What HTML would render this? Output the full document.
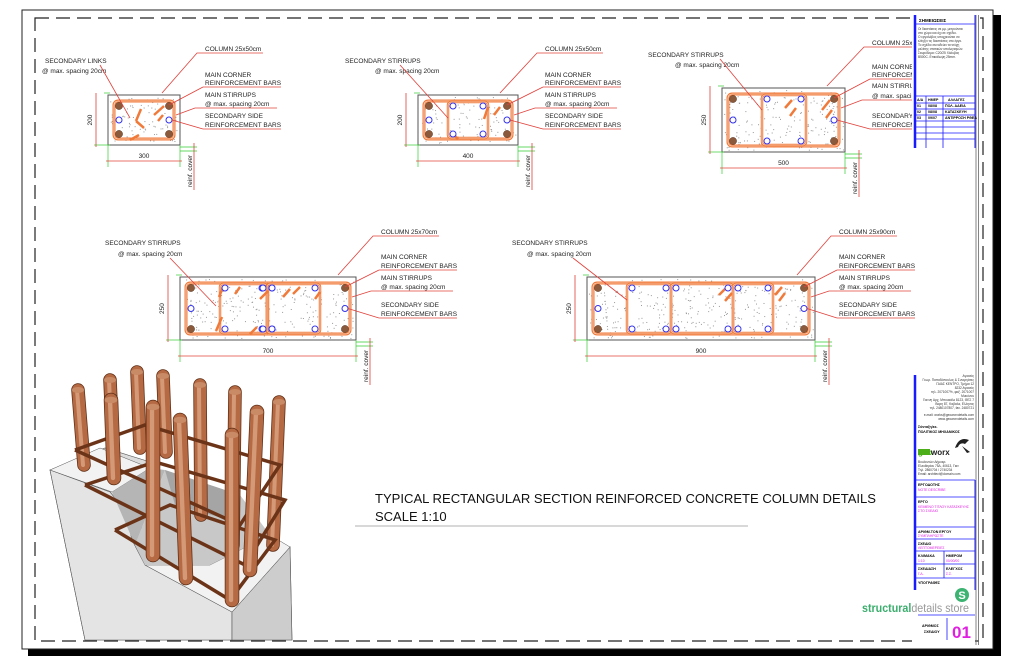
<!DOCTYPE html>
<html><head><meta charset="utf-8">
<style>
html,body{margin:0;padding:0;background:#fff;}
svg{display:block;font-family:"Liberation Sans",Arial,sans-serif;}
</style></head>
<body>
<svg id="s" width="1024" height="662" viewBox="0 0 1024 662" xmlns="http://www.w3.org/2000/svg">
<rect x="0" y="0" width="1024" height="662" fill="#fff"/>
<rect x="993" y="15" width="8" height="641" fill="#000"/>
<rect x="28" y="649" width="973" height="7" fill="#000"/>
<rect x="22" y="10" width="971" height="639" fill="none" stroke="#222" stroke-width="1"/>
<rect x="35" y="18" width="948" height="623" fill="none" stroke="#222" stroke-width="1.2" stroke-dasharray="14,7"/>
<line x1="976" y1="15" x2="976" y2="645" stroke="#666" stroke-width="0.8"/>
<line x1="978.5" y1="15" x2="978.5" y2="645" stroke="#666" stroke-width="0.8"/>
<g id="g"></g>
<rect x="912" y="14" width="63" height="136" fill="#fff"/>
<line x1="915" y1="15" x2="915" y2="148" stroke="#1a1aff" stroke-width="2.5"/>
<line x1="975" y1="15" x2="975" y2="148" stroke="#1a1aff" stroke-width="1"/>
<text x="919" y="22" font-size="4.5" font-weight="bold">ΣΗΜΕΙΩΣΕΙΣ</text>
<line x1="915" y1="24" x2="975" y2="24" stroke="#1a1aff" stroke-width="0.8"/>
<g font-size="3.2" fill="#333">
<text x="918" y="30">Οι διαστάσεις σε μμ. μετρούνται</text>
<text x="918" y="34">στο χώρο και όχι σε σχέδιο.</text>
<text x="918" y="38">Ο εργολάβος υποχρεούται να</text>
<text x="918" y="42">ελέγξει τις διαστάσεις στο έργο.</text>
<text x="918" y="46">Το σχέδιο συνοδεύει τα τεύχη</text>
<text x="918" y="50">μελέτης στατικών υπολογισμών.</text>
<text x="918" y="54">Σκυρόδεμα: C20/25 Χάλυβας</text>
<text x="918" y="58">B500C. Επικάλυψη 25mm.</text>
</g>
<g stroke="#1a1aff" stroke-width="0.8">
<line x1="915" y1="96" x2="975" y2="96"/><line x1="915" y1="103" x2="975" y2="103"/>
<line x1="915" y1="109" x2="975" y2="109"/><line x1="915" y1="115" x2="975" y2="115"/>
<line x1="915" y1="121" x2="975" y2="121"/><line x1="915" y1="127" x2="975" y2="127"/>
<line x1="915" y1="133" x2="975" y2="133"/><line x1="915" y1="139" x2="975" y2="139"/>
<line x1="926" y1="96" x2="926" y2="148"/><line x1="943" y1="96" x2="943" y2="148"/>
</g>
<g font-size="3.6" font-weight="bold">
<text x="917" y="101">Α/Α</text><text x="928" y="101">ΗΜΕΡ</text><text x="948" y="101">ΑΛΛΑΓΕΣ</text>
<text x="917" y="107">01</text><text x="928" y="107">08/08</text><text x="945" y="107">ΠΟΛ. ΑΔΕΙΑ</text>
<text x="917" y="113">02</text><text x="928" y="113">08/08</text><text x="945" y="113">ΚΑΤΑΣΚΕΥΗ</text>
<text x="917" y="119">03</text><text x="928" y="119">09/07</text><text x="945" y="119">ΑΝΤΙΡΡΟΣΗ ΡΘΕΑ</text>
</g>
<rect x="912" y="372" width="63" height="270" fill="#fff"/>
<line x1="915" y1="375" x2="915" y2="590" stroke="#1a1aff" stroke-width="2.5"/>
<line x1="975" y1="480" x2="975" y2="590" stroke="#1a1aff" stroke-width="1"/>
<g font-size="3.2" fill="#333" text-anchor="end">
<text x="974" y="377">Αγιασός</text><text x="974" y="381">Γεωρ. Παπαδόπουλος &amp; Συνεργάτες</text>
<text x="974" y="385">ΓΑΙΑΣ ΚΕΝΤΡΟ, Τμήμα 12</text><text x="974" y="389">8232 Αγιασός</text>
<text x="974" y="393">τηλ. 2071007%, φαξ. 2071007</text><text x="974" y="397">Μυκόνου</text>
<text x="974" y="401">Γιαννη Αρχ. Μπουκάλιι 8123, ΘΕΣ 7</text><text x="974" y="405">Βαρη 87, Καβαλα, Ελληνας</text>
<text x="974" y="409">τηλ. 2480107807, fax. 2480721</text>
<text x="974" y="416">e-mail: works@geoworxdetails.com</text><text x="974" y="420">www.geoworxdetails.com</text>
</g>
<g font-size="3.6" font-weight="bold"><text x="918" y="428">Σύνταξη/εκ.</text><text x="918" y="433">ΠΟΛΙΤΙΚΟΣ ΜΗΧΑΝΙΚΟΣ</text></g>
<rect x="918" y="449" width="12" height="6" fill="#4caf1a"/>
<text x="918" y="455" font-size="8" font-weight="bold" fill="#4caf1a">geo</text>
<text x="931" y="455" font-size="8" font-weight="bold" fill="#222">worx</text>
<path d="M955 448 q4 -12 14 -8 l-4 4 q-5 -2 -7 3 z M962 446 l8 6 -3 1z" fill="#222"/>
<g font-size="3.2" fill="#333">
<text x="918" y="463">Βουλευτών Δήμοκρ.</text><text x="918" y="467">Ελευθερίου 75Δ, 40613, Γιαν</text>
<text x="918" y="471">Τηλ. 2860704 / 2740234</text><text x="918" y="475">Email: architect@domain.com</text>
</g>
<g stroke="#1a1aff" stroke-width="0.8">
<line x1="915" y1="480" x2="975" y2="480"/><line x1="915" y1="497" x2="975" y2="497"/>
<line x1="915" y1="527" x2="975" y2="527"/><line x1="915" y1="539" x2="975" y2="539"/>
<line x1="915" y1="551" x2="975" y2="551"/><line x1="915" y1="564" x2="975" y2="564"/>
<line x1="915" y1="578" x2="975" y2="578"/><line x1="944" y1="551" x2="944" y2="578"/>
<line x1="918" y1="615" x2="975" y2="615"/><line x1="947" y1="618" x2="947" y2="640"/>
</g>
<g font-size="3.6" font-weight="bold">
<text x="918" y="486">ΕΡΓΟΔΟΤΗΣ</text><text x="918" y="503">ΕΡΓΟ</text>
<text x="918" y="533">ΑΡΙΘΜ.ΤΟΝ ΕΡΓΟΥ</text><text x="918" y="545">ΣΧΕΔΙΟ</text>
<text x="918" y="557">ΚΛΙΜΑΚΑ</text><text x="946" y="557">ΗΜΕΡΟΜ</text>
<text x="918" y="570">ΣΧΕΔΙΑΣΗ</text><text x="946" y="570">ΕΛΕΓΧΟΣ</text>
<text x="918" y="584">ΥΠΟΓΡΑΦΕΣ</text>
<text x="922" y="627">ΑΡΙΘΜΟΣ</text><text x="924" y="633">ΣΧΕΔΙΟΥ</text>
</g>
<g font-size="3.4" fill="#e020e0">
<text x="918" y="491">NOTE DESCRIBE</text><text x="918" y="508">ΚΕΙΜΕΝΟ ΤΙΤΛΟΥ ΚΑΤΑΣΚΕΥΗΣ</text><text x="918" y="512">ΣΤΟ ΣΧΕΔΙΟ</text>
<text x="918" y="537">ΣΥΜΠΛΗΡΩΣΤΕ</text><text x="918" y="549">ΛΕΠΤΟΜΕΡΕΙΕΣ</text>
<text x="918" y="562">1:10</text><text x="946" y="562">00/00/00</text>
<text x="918" y="575">Γ.Δ.</text><text x="946" y="575">Σ.Σ.</text>
</g>
<circle cx="962" cy="595" r="7" fill="#3cb371"/>
<text x="962" y="599" font-size="11" font-weight="bold" fill="#fff" text-anchor="middle">S</text>
<text x="862" y="612" font-size="12" textLength="107" lengthAdjust="spacingAndGlyphs"><tspan fill="#3cae6e" font-weight="bold">structural</tspan><tspan fill="#999">details store</tspan></text>
<text x="952" y="638" font-size="17" font-weight="bold" fill="#e020e0">01</text>
<text x="375" y="503" font-size="13" fill="#111" textLength="501" lengthAdjust="spacingAndGlyphs">TYPICAL RECTANGULAR SECTION REINFORCED CONCRETE COLUMN DETAILS</text>
<text x="375" y="521" font-size="13" fill="#111">SCALE 1:10</text>
<line x1="355" y1="526" x2="748" y2="526" stroke="#999" stroke-width="0.8"/>
<g id="d3">
<polygon points="50,470 105,448 160,465 135,490 140,520 150,560 232,610 290,547 292,640 85,640" fill="#dcdcdc" stroke="#555" stroke-width="0.6"/>
<polygon points="50,470 110,492 125,510 132,540 145,565 232,612 232,640 85,640" fill="#e4e4e4" stroke="#555" stroke-width="0.6"/>
<polygon points="232,612 290,547 292,640 232,640" fill="#cdcdcd" stroke="#555" stroke-width="0.6"/>
<polygon points="50,470 100,448 150,468 112,492" fill="#f2f2f2" stroke="#555" stroke-width="0.5"/>
<polygon points="145,565 232,612 290,547 270,535 210,565" fill="#f2f2f2" stroke="#555" stroke-width="0.5"/>
<polygon points="112,492 150,468 165,470 135,545" fill="#b5b5b5"/>
<polygon points="135,545 165,470 240,495 270,535 210,565 145,565" fill="#c8c8c8"/>
<polygon points="165,470 240,495 230,520 175,505" fill="#a5a5a5"/>
</g>
<g id="rods"></g>
</svg>
<script>
var NS="http://www.w3.org/2000/svg",G=document.getElementById('g');
function el(t,a,p){var e=document.createElementNS(NS,t);for(var k in a)e.setAttribute(k,a[k]);(p||G).appendChild(e);return e;}
function tx(x,y,s,o){var a={x:x,y:y,'font-size':6.5,fill:'#222'};for(var k in o)a[k]=o[k];el('text',a).textContent=s;}
var R='#e0403a',O='#f07a3a';
var seed=3;function rnd(){seed=(seed*9301+49297)%233280;return seed/233280;}
function sec(x,y,w,h,dw,dh,divs,links){
 el('rect',{x:x,y:y,width:w,height:h,fill:'#fff',stroke:'#555','stroke-width':1});
 var n=Math.floor(w*h/40);for(var i=0;i<n;i++)el('rect',{x:x+2+rnd()*(w-4),y:y+2+rnd()*(h-4),width:1,height:1,fill:'#999'});
 var i0=6;
 el('rect',{x:x+i0,y:y+i0,width:w-2*i0,height:h-2*i0,rx:4,fill:'none',stroke:O,'stroke-width':3});
 el('rect',{x:x+i0,y:y+i0,width:w-2*i0,height:h-2*i0,rx:4,fill:'none',stroke:'#fff','stroke-width':0.6});
 divs.forEach(function(d){el('rect',{x:x+d[0],y:y+i0+1,width:d[1]-d[0],height:h-2*i0-2,rx:3,fill:'none',stroke:O,'stroke-width':2.5});el('rect',{x:x+d[0],y:y+i0+1,width:d[1]-d[0],height:h-2*i0-2,rx:3,fill:'none',stroke:'#fff','stroke-width':0.5});});
 links.forEach(function(l){el('line',{x1:x+l[0],y1:y+l[1],x2:x+l[2],y2:y+l[3],stroke:O,'stroke-width':2.5});});
 var c=11;[[c,c],[w-c,c],[c,h-c],[w-c,h-c]].forEach(function(p){el('circle',{cx:x+p[0],cy:y+p[1],r:3.6,fill:'#8b5a3c',stroke:'#5a3520','stroke-width':0.5});});
 el('circle',{cx:x+c,cy:y+h/2,r:3,fill:'#fff',stroke:'#3333ee','stroke-width':1});
 el('circle',{cx:x+w-c,cy:y+h/2,r:3,fill:'#fff',stroke:'#3333ee','stroke-width':1});
 divs.forEach(function(d){[d[0],d[1]].forEach(function(xx){if(xx<w-20&&xx>20){el('circle',{cx:x+xx+5*(xx==d[0]?1:-1),cy:y+c,r:3,fill:'#fff',stroke:'#3333ee','stroke-width':1});el('circle',{cx:x+xx+5*(xx==d[0]?1:-1),cy:y+h-c,r:3,fill:'#fff',stroke:'#3333ee','stroke-width':1});}});});
 el('line',{x1:x-4,y1:y-2,x2:x+2,y2:y-2,stroke:'#3c3','stroke-width':0.7});
 el('line',{x1:x-14,y1:y+h,x2:x+2,y2:y+h,stroke:'#3c3','stroke-width':0.7});
 el('line',{x1:x-12,y1:y-2,x2:x-12,y2:y+h+2,stroke:R,'stroke-width':0.8});
 tx(x-16,y+h/2,dh,{'font-size':6.5,transform:'rotate(-90 '+(x-16)+' '+(y+h/2)+')','text-anchor':'middle'});
 el('line',{x1:x,y1:y+h,x2:x,y2:y+h+22,stroke:'#3c3','stroke-width':0.7});
 el('line',{x1:x+w,y1:y+h,x2:x+w,y2:y+h+22,stroke:'#3c3','stroke-width':0.7});
 el('line',{x1:x-2,y1:y+h+16,x2:x+w+2,y2:y+h+16,stroke:R,'stroke-width':0.8});
 tx(x+w/2,y+h+13,dw,{'font-size':6.5,'text-anchor':'middle'});
 el('line',{x1:x+w,y1:y+h+2,x2:x+w+17,y2:y+h+2,stroke:'#3c3','stroke-width':0.7});
 el('line',{x1:x+w,y1:y+h+6,x2:x+w+17,y2:y+h+6,stroke:'#3c3','stroke-width':0.7});
 el('line',{x1:x+w+14,y1:y+h-2,x2:x+w+14,y2:y+h+45,stroke:R,'stroke-width':0.8});
 tx(x+w+12,y+h+42,'reinf. cover',{'font-size':6.5,transform:'rotate(-90 '+(x+w+12)+' '+(y+h+42)+')'});
}
function lab(lx,lines,tg){
 lines.forEach(function(l){tx(lx,l[0],l[1]);if(l[2])el('line',{x1:lx-2,y1:l[0]+2,x2:lx+l[2],y2:l[0]+2,stroke:R,'stroke-width':0.8});});
 tg.forEach(function(t){el('polyline',{points:t,fill:'none',stroke:R,'stroke-width':0.8});});
}
function rlab(lx,ys,col,x,y,w,h){
 lab(lx,[[ys[0],col,58],[ys[1],'MAIN CORNER',0],[ys[2],'REINFORCEMENT BARS',76],[ys[3],'MAIN STIRRUPS',0],[ys[4],'@ max. spacing 20cm',72],[ys[5],'SECONDARY SIDE',0],[ys[6],'REINFORCEMENT BARS',76]],
 [(lx-2)+','+(ys[0]+2)+' '+(lx-8)+','+(ys[0]+2)+' '+(x+w-18)+','+(y-2),
  (lx-2)+','+(ys[2]+2)+' '+(x+w-11)+','+(y+10),
  (lx-2)+','+(ys[4]+2)+' '+(lx-10)+','+(ys[4]+2)+' '+(x+w-4)+','+(y+20),
  (lx-2)+','+(ys[6]+2)+' '+(x+w-8)+','+(y+h/2)]);
}
var ly1=[51,77,85,97,106,118,127];
sec(108,95,72,50,'300','200',[],[[33,14,28,26],[28,26,36,33],[31,40,22,45],[56,11,46,20],[55,20,50,26]]);
rlab(205,ly1,'COLUMN 25x50cm',108,95,72,50);
tx(45,63,'SECONDARY LINKS');tx(42,73,'@ max. spacing 20cm');el('polyline',{points:'100,65 130,118',fill:'none',stroke:R,'stroke-width':0.8});
sec(418,95,100,50,'400','200',[[30,70]],[[82,12,76,20],[70,12,66,24],[34,38,40,44]]);
rlab(545,ly1,'COLUMN 25x50cm',418,95,100,50);
tx(345,63,'SECONDARY STIRRUPS');tx(375,73,'@ max. spacing 20cm');el('polyline',{points:'400,65 448,118',fill:'none',stroke:R,'stroke-width':0.8});
sec(722,88,123,64,'500','250',[[40,84]],[[70,12,63,20],[74,20,68,28],[108,12,100,22],[110,22,104,30]]);
rlab(872,[45,69,77,88,98,118,127],'COLUMN 25x50cm',722,88,123,64);
tx(648,57,'SECONDARY STIRRUPS');tx(675,67,'@ max. spacing 20cm');el('polyline',{points:'720,59 762,110',fill:'none',stroke:R,'stroke-width':0.8});
var ly2=[234,259,268,280,289,307,316];
sec(180,277,176,63,'700','250',[[40,87],[87,88],[87,140]],[[43,10,39,20],[42,40,36,54],[77,50,70,57],[60,10,55,17],[88,14,80,22],[120,10,113,17],[110,12,103,20],[140,15,135,22]]);
rlab(381,ly2,'COLUMN 25x70cm',180,277,176,63);
tx(105,245,'SECONDARY STIRRUPS');tx(118,256,'@ max. spacing 20cm');el('polyline',{points:'170,258 216,306',fill:'none',stroke:R,'stroke-width':0.8});
sec(587,277,228,63,'900','250',[[40,84],[84,146],[146,186]],[[140,10,132,18],[145,16,138,24],[195,10,188,18],[198,16,192,24]]);
rlab(839,ly2,'COLUMN 25x90cm',587,277,228,63);
tx(512,245,'SECONDARY STIRRUPS');tx(527,256,'@ max. spacing 20cm');el('polyline',{points:'573,258 627,300',fill:'none',stroke:R,'stroke-width':0.8});
var RG=document.getElementById('rods');
var hoops=[[[75,450],[145,425],[280,465],[240,525],[75,450]],[[85,485],[155,462],[285,500],[245,565],[85,485]],[[115,530],[170,505],[275,540],[230,600],[115,530]]];
function rod(x1,y1,x2,y2,w){el('line',{x1:x1,y1:y1,x2:x2,y2:y2,stroke:'#5e2c12','stroke-width':w+1.5,'stroke-linecap':'round'},RG);el('line',{x1:x1,y1:y1,x2:x2,y2:y2,stroke:'#b56a44','stroke-width':w,'stroke-linecap':'round'},RG);el('line',{x1:x1-1,y1:y1,x2:x2-1,y2:y2,stroke:'#d49a78','stroke-width':w/3,'stroke-linecap':'round'},RG);el('ellipse',{cx:x1,cy:y1,rx:w/2,ry:w/4,fill:'#c98a66'},RG);}
var back=[[137,372,140,448],[163,376,166,452],[110,380,114,470],[200,385,201,515],[235,392,233,545],[279,402,273,545],[78,390,84,465]];
back.forEach(function(r){rod(r[0],r[1],r[2],r[3],12);});
hoops.forEach(function(h){el('polyline',{points:h.map(function(p){return p.join(',')}).join(' '),fill:'none',stroke:'#6b3418','stroke-width':3.5},RG);});
var front=[[111,400,114,478],[257,412,250,570],[153,407,153,555],[180,420,186,578],[232,435,232,600]];
front.forEach(function(r){rod(r[0],r[1],r[2],r[3],13);});
</script>
</body></html>
